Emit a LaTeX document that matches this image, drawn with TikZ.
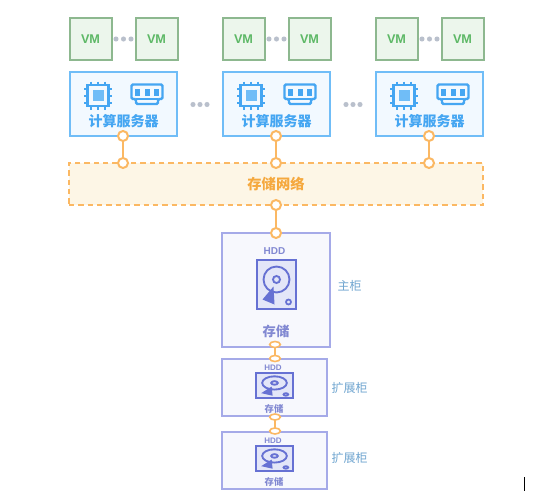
\documentclass[tikz,border=0pt]{standalone}
\usepackage{fontspec}
\setmainfont{Liberation Sans}
\newfontfamily\cjk{Noto Sans CJK SC}
\definecolor{vmline}{HTML}{8DB88F}
\definecolor{vmfill}{HTML}{ECF6EC}
\definecolor{vmtext}{HTML}{5DB866}
\definecolor{srvline}{HTML}{70BDF7}
\definecolor{srvfill}{HTML}{F2F9FF}
\definecolor{srvtext}{HTML}{45A6F2}
\definecolor{netline}{HTML}{FBB863}
\definecolor{netfill}{HTML}{FDF6E6}
\definecolor{netrtext}{HTML}{F5A93F}
\definecolor{stline}{HTML}{A5AAE8}
\definecolor{stfill}{HTML}{F7F8FD}
\definecolor{sttext}{HTML}{8289D2}
\definecolor{icon}{HTML}{6671D3}
\definecolor{iconfill}{HTML}{E3E6F8}
\definecolor{lbl}{HTML}{6FA5D0}
\definecolor{dots}{HTML}{B9C0CC}
\usetikzlibrary{shapes.geometric}
\tikzset{
 x=0.75pt,y=-0.75pt,
 vmbox/.style={draw=vmline,fill=vmfill,line width=1.5pt,minimum width=31.5pt,minimum height=31pt,inner sep=0pt,font=\fontsize{9.5}{10}\selectfont\bfseries\color{vmtext}},
 srvbox/.style={draw=srvline,fill=srvfill,line width=1.5pt,minimum width=80.5pt,minimum height=47.5pt,inner sep=0pt},
 netbox/.style={draw=netline,fill=netfill,line width=1.6pt,dash pattern=on 4pt off 3pt,minimum width=310.5pt,minimum height=31.5pt,inner sep=0pt,font=\cjk\fontsize{10.7}{12}\selectfont\bfseries\color{netrtext}},
 stbox/.style={draw=stline,fill=stfill,line width=1.5pt,inner sep=0pt},
 srvlabel/.style={font=\cjk\fontsize{10.5}{12}\selectfont\bfseries\color{srvtext},inner sep=0pt},
 stlabel/.style={font=\cjk\fontsize{#1}{11}\selectfont\bfseries\color{sttext},inner sep=0pt},
 sidelabel/.style={font=\cjk\fontsize{9}{11}\selectfont\color{lbl},inner sep=0pt},
 hddlabel/.style={font=\fontsize{#1}{9}\selectfont\bfseries\color{sttext},inner sep=0pt},
 port/.style={circle,draw=netline,fill=white,line width=1.5pt,minimum size=7.5pt,inner sep=0pt},
 eport/.style={ellipse,draw=netline,fill=white,line width=1.2pt,minimum width=8pt,minimum height=4.5pt,inner sep=0pt},
 link/.style={draw=netline,line width=1.5pt},
 dotmark/.style={circle,fill=dots,minimum size=3.8pt,inner sep=0pt},
}
% chip icon centred on (#1,#2)
\newcommand{\chipicon}[2]{%
 \begin{scope}[shift={(#1,#2)},srvtext,line width=1.5pt]
  \foreach \d in {-7,0,7}{%
   \draw (\d,-14) -- (\d,14);
   \draw (-14,\d) -- (14,\d);
  }
  \draw[fill=srvfill,line width=1.8pt] (-10.5,-10.5) rectangle (10.5,10.5);
  \fill[srvline] (-5.5,-5.5) rectangle (5.5,5.5);
 \end{scope}}
% memory icon centred on (#1,#2)
\newcommand{\ramicon}[2]{%
 \begin{scope}[shift={(#1,#2)},srvtext,line width=1.8pt]
  \draw[fill=srvfill,rounded corners=1pt] (-15.5,-9.5) -- (15.5,-9.5) -- (15.5,5) -- (11,5) -- (11,10) -- (-11,10) -- (-11,5) -- (-15.5,5) -- cycle;
  \draw[line width=1.2pt] (-11,5) -- (11,5);
  \foreach \d in {-9.5,0,9.5}{\fill (\d-2.5,-5.5) rectangle (\d+2.5,2);}
 \end{scope}}
% hard disk icon: centre, half width, half height
\newcommand{\hddicon}[4]{%
 \begin{scope}[shift={(#1,#2)},xscale=#3/19.5,yscale=#4/24.5]
  \draw[icon,fill=iconfill,line width=1.8pt] (-19.5,-24.5) rectangle (19.5,24.5);
  \draw[icon,line width=1.4pt] (0,-5) circle[radius=13];
  \draw[icon,line width=1.4pt] (0,-5) circle[radius=3.5];
  \fill[icon] (-3,2) -- (-14,15) -- (-2,20) -- cycle;
  \draw[icon,line width=1.3pt] (12,17.5) circle[radius=2.5];
 \end{scope}}
\begin{document}
\begin{tikzpicture}
\useasboundingbox[fill=white] (0,0) rectangle (540,496);
% VM rows and servers
\foreach \n/\xo in {a/0,b/153,c/306}{%
 \node[vmbox] (vm1\n) at (90.5+\xo,39) {VM};
 \node[vmbox] (vm2\n) at (156.5+\xo,39) {VM};
 \node[dotmark] (d1\n) at (116+\xo,39) {};
 \node[dotmark] (d2\n) at (123.5+\xo,39) {};
 \node[dotmark] (d3\n) at (131+\xo,39) {};
 \node[srvbox] (srv\n) at (123.3+\xo,104) {};
 \chipicon{98+\xo}{95.5}
 \ramicon{147+\xo}{94}
 \node[srvlabel] (srvt\n) at (123.5+\xo,121) {计算服务器};
}
\foreach \xo/\n in {0/a,153/b}{%
 \node[dotmark] (e1\n) at (193+\xo,104.5) {};
 \node[dotmark] (e2\n) at (200+\xo,104.5) {};
 \node[dotmark] (e3\n) at (207+\xo,104.5) {};
}
% network
\node[netbox] (net) at (276,184) {存储网络};
% storage
\node[stbox,minimum width=81pt,minimum height=85.5pt] (main) at (276,290) {};
\node[hddlabel=7.5] (hddm) at (274.5,251) {HDD};
\hddicon{276.5}{284.5}{19.5}{24.5}
\node[stlabel=10] (stm) at (276,331.5) {存储};
\node[sidelabel] (lm) at (349.5,285.5) {主柜};
\node[stbox,minimum width=79pt,minimum height=43pt] (ex1) at (274.5,387.5) {};
\node[hddlabel=6] (hdd1) at (273,368) {HDD};
\hddicon{274.5}{385.5}{18.5}{12.5}
\node[stlabel=7] (st1) at (274,408.5) {存储};
\node[sidelabel] (l1) at (349.5,388) {扩展柜};
\node[stbox,minimum width=79pt,minimum height=43pt] (ex2) at (274.5,460.5) {};
\node[hddlabel=6] (hdd2) at (273,440.5) {HDD};
\hddicon{274.5}{458.5}{18.5}{12.5}
\node[stlabel=7] (st2) at (274,481.5) {存储};
\node[sidelabel] (l2) at (349.5,458) {扩展柜};
% connectors
\foreach \n/\xx in {a/123,b/276,c/429}{%
 \coordinate (top\n) at (\xx,136);
 \coordinate (bot\n) at (\xx,163);
 \draw[link] (top\n) -- (bot\n);
 \node[port] (pt\n) at (top\n) {};
 \node[port] (pb\n) at (bot\n) {};
}
\coordinate (nb) at (276,205);
\coordinate (mt) at (276,233);
\draw[link] (nb) -- (mt);
\node[port] (p1) at (nb) {};
\node[port] (p2) at (mt) {};
\coordinate (m1) at (275,344.5);
\coordinate (m2) at (275,358.5);
\draw[link] (m1) -- (m2);
\node[eport] (p3) at (m1) {};
\node[eport] (p4) at (m2) {};
\coordinate (m3) at (275,417);
\coordinate (m4) at (275,431);
\draw[link] (m3) -- (m4);
\node[eport] (p5) at (m3) {};
\node[eport] (p6) at (m4) {};
% stray mark
\coordinate (s1) at (524,477);
\coordinate (s2) at (524,491);
\draw[black,line width=0.7pt] (s1) -- (s2);
\end{tikzpicture}
\end{document}
